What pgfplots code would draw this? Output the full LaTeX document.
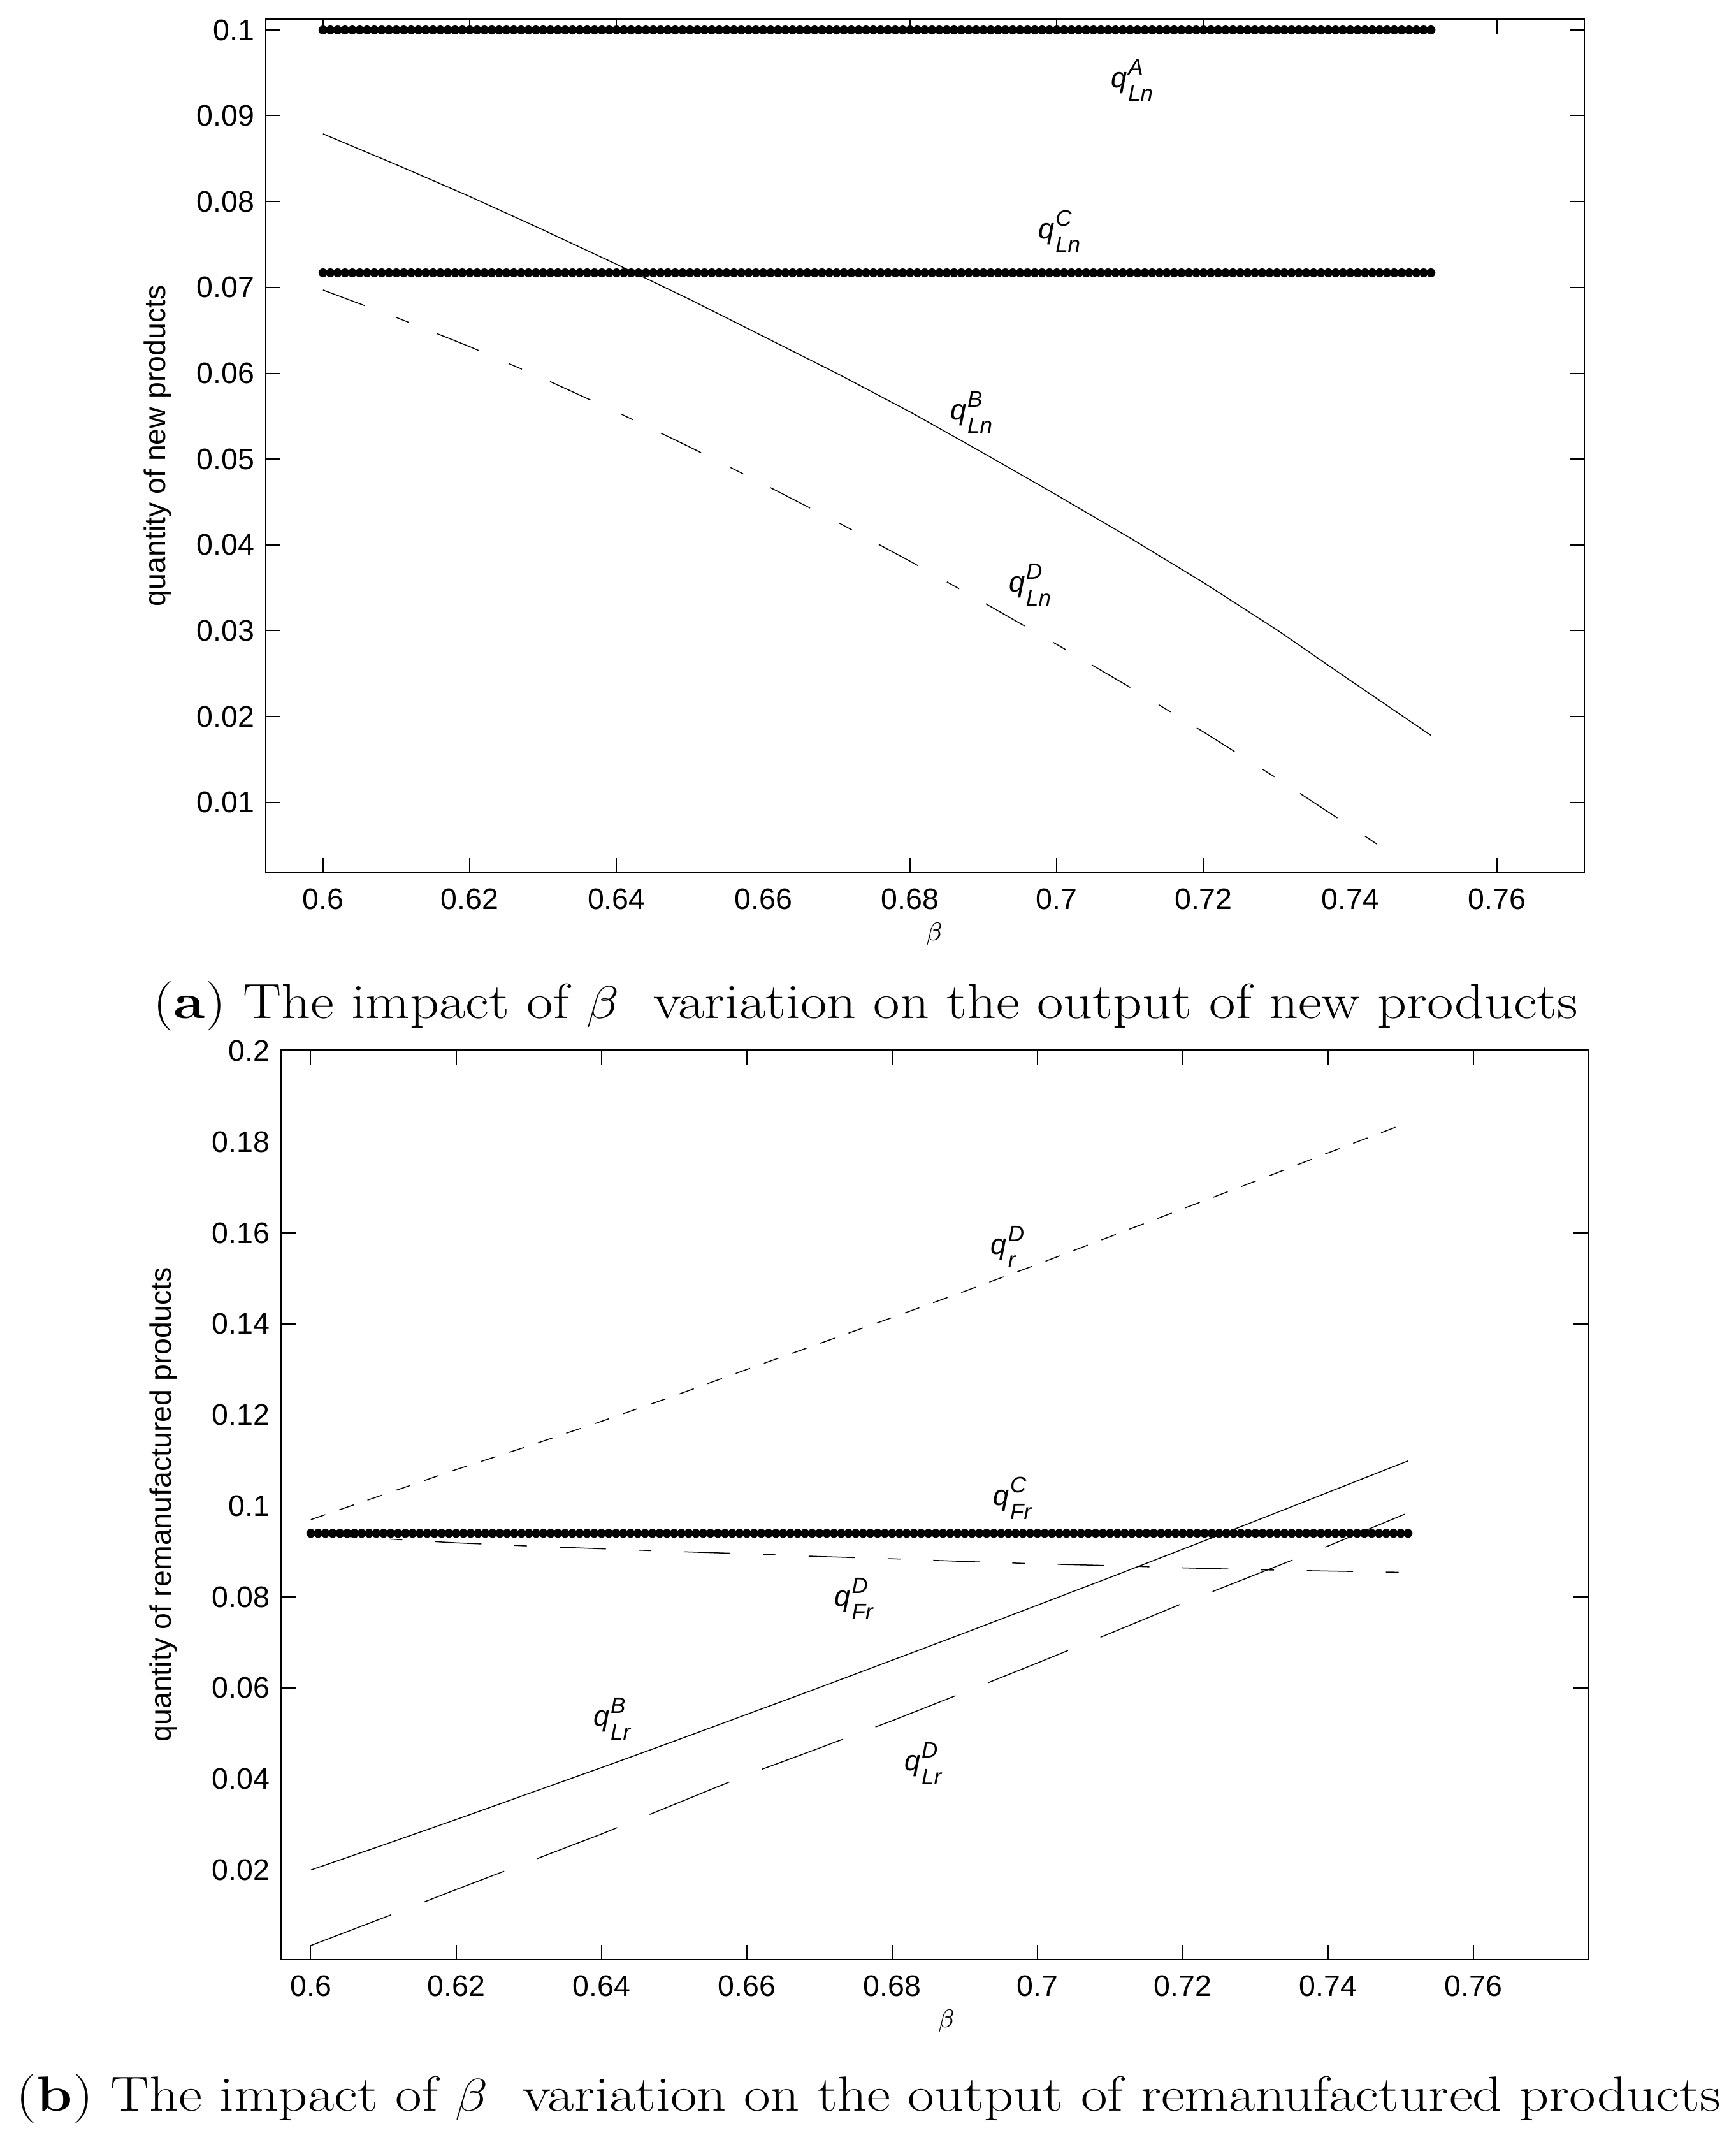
\documentclass[border=0pt]{standalone}
\usepackage{fontspec}
\usepackage{amsmath}
\usepackage{graphicx}
\usepackage{pgfplots}
\usepackage{pgfplotstable}
\pgfplotsset{compat=1.18}
\newfontfamily\hel{Liberation Sans}
% label q with superscript #1 and subscript #2 (MATLAB tex style)
\newcommand{\ql}[2]{{\fontsize{9}{10}\selectfont\textit{q}}\kern0.4pt\rlap{\raisebox{4pt}{\fontsize{7}{8}\selectfont\textit{#1}}}\raisebox{-4.3pt}{\fontsize{7}{8}\selectfont\textit{#2}}}

% constant series (dotted rows): beta, q^A_Ln, q^C_Ln, q^C_Fr
\pgfplotstableread{
x a c f
0.600 0.1 0.0717 0.094
0.601 0.1 0.0717 0.094
0.602 0.1 0.0717 0.094
0.603 0.1 0.0717 0.094
0.604 0.1 0.0717 0.094
0.605 0.1 0.0717 0.094
0.606 0.1 0.0717 0.094
0.607 0.1 0.0717 0.094
0.608 0.1 0.0717 0.094
0.609 0.1 0.0717 0.094
0.610 0.1 0.0717 0.094
0.611 0.1 0.0717 0.094
0.612 0.1 0.0717 0.094
0.613 0.1 0.0717 0.094
0.614 0.1 0.0717 0.094
0.615 0.1 0.0717 0.094
0.616 0.1 0.0717 0.094
0.617 0.1 0.0717 0.094
0.618 0.1 0.0717 0.094
0.619 0.1 0.0717 0.094
0.620 0.1 0.0717 0.094
0.621 0.1 0.0717 0.094
0.622 0.1 0.0717 0.094
0.623 0.1 0.0717 0.094
0.624 0.1 0.0717 0.094
0.625 0.1 0.0717 0.094
0.626 0.1 0.0717 0.094
0.627 0.1 0.0717 0.094
0.628 0.1 0.0717 0.094
0.629 0.1 0.0717 0.094
0.630 0.1 0.0717 0.094
0.631 0.1 0.0717 0.094
0.632 0.1 0.0717 0.094
0.633 0.1 0.0717 0.094
0.634 0.1 0.0717 0.094
0.635 0.1 0.0717 0.094
0.636 0.1 0.0717 0.094
0.637 0.1 0.0717 0.094
0.638 0.1 0.0717 0.094
0.639 0.1 0.0717 0.094
0.640 0.1 0.0717 0.094
0.641 0.1 0.0717 0.094
0.642 0.1 0.0717 0.094
0.643 0.1 0.0717 0.094
0.644 0.1 0.0717 0.094
0.645 0.1 0.0717 0.094
0.646 0.1 0.0717 0.094
0.647 0.1 0.0717 0.094
0.648 0.1 0.0717 0.094
0.649 0.1 0.0717 0.094
0.650 0.1 0.0717 0.094
0.651 0.1 0.0717 0.094
0.652 0.1 0.0717 0.094
0.653 0.1 0.0717 0.094
0.654 0.1 0.0717 0.094
0.655 0.1 0.0717 0.094
0.656 0.1 0.0717 0.094
0.657 0.1 0.0717 0.094
0.658 0.1 0.0717 0.094
0.659 0.1 0.0717 0.094
0.660 0.1 0.0717 0.094
0.661 0.1 0.0717 0.094
0.662 0.1 0.0717 0.094
0.663 0.1 0.0717 0.094
0.664 0.1 0.0717 0.094
0.665 0.1 0.0717 0.094
0.666 0.1 0.0717 0.094
0.667 0.1 0.0717 0.094
0.668 0.1 0.0717 0.094
0.669 0.1 0.0717 0.094
0.670 0.1 0.0717 0.094
0.671 0.1 0.0717 0.094
0.672 0.1 0.0717 0.094
0.673 0.1 0.0717 0.094
0.674 0.1 0.0717 0.094
0.675 0.1 0.0717 0.094
0.676 0.1 0.0717 0.094
0.677 0.1 0.0717 0.094
0.678 0.1 0.0717 0.094
0.679 0.1 0.0717 0.094
0.680 0.1 0.0717 0.094
0.681 0.1 0.0717 0.094
0.682 0.1 0.0717 0.094
0.683 0.1 0.0717 0.094
0.684 0.1 0.0717 0.094
0.685 0.1 0.0717 0.094
0.686 0.1 0.0717 0.094
0.687 0.1 0.0717 0.094
0.688 0.1 0.0717 0.094
0.689 0.1 0.0717 0.094
0.690 0.1 0.0717 0.094
0.691 0.1 0.0717 0.094
0.692 0.1 0.0717 0.094
0.693 0.1 0.0717 0.094
0.694 0.1 0.0717 0.094
0.695 0.1 0.0717 0.094
0.696 0.1 0.0717 0.094
0.697 0.1 0.0717 0.094
0.698 0.1 0.0717 0.094
0.699 0.1 0.0717 0.094
0.700 0.1 0.0717 0.094
0.701 0.1 0.0717 0.094
0.702 0.1 0.0717 0.094
0.703 0.1 0.0717 0.094
0.704 0.1 0.0717 0.094
0.705 0.1 0.0717 0.094
0.706 0.1 0.0717 0.094
0.707 0.1 0.0717 0.094
0.708 0.1 0.0717 0.094
0.709 0.1 0.0717 0.094
0.710 0.1 0.0717 0.094
0.711 0.1 0.0717 0.094
0.712 0.1 0.0717 0.094
0.713 0.1 0.0717 0.094
0.714 0.1 0.0717 0.094
0.715 0.1 0.0717 0.094
0.716 0.1 0.0717 0.094
0.717 0.1 0.0717 0.094
0.718 0.1 0.0717 0.094
0.719 0.1 0.0717 0.094
0.720 0.1 0.0717 0.094
0.721 0.1 0.0717 0.094
0.722 0.1 0.0717 0.094
0.723 0.1 0.0717 0.094
0.724 0.1 0.0717 0.094
0.725 0.1 0.0717 0.094
0.726 0.1 0.0717 0.094
0.727 0.1 0.0717 0.094
0.728 0.1 0.0717 0.094
0.729 0.1 0.0717 0.094
0.730 0.1 0.0717 0.094
0.731 0.1 0.0717 0.094
0.732 0.1 0.0717 0.094
0.733 0.1 0.0717 0.094
0.734 0.1 0.0717 0.094
0.735 0.1 0.0717 0.094
0.736 0.1 0.0717 0.094
0.737 0.1 0.0717 0.094
0.738 0.1 0.0717 0.094
0.739 0.1 0.0717 0.094
0.740 0.1 0.0717 0.094
0.741 0.1 0.0717 0.094
0.742 0.1 0.0717 0.094
0.743 0.1 0.0717 0.094
0.744 0.1 0.0717 0.094
0.745 0.1 0.0717 0.094
0.746 0.1 0.0717 0.094
0.747 0.1 0.0717 0.094
0.748 0.1 0.0717 0.094
0.749 0.1 0.0717 0.094
0.750 0.1 0.0717 0.094
0.751 0.1 0.0717 0.094
}\consts

\pgfplotsset{
  mystyle/.style={
    scale only axis,
    anchor=south west,
    axis line style={line width=0.4pt},
    every tick/.style={black, line width=0.3pt},
    major tick length=4.6pt,
    tick align=inside,
    scaled ticks=false,
    ticklabel style={font=\hel\fontsize{9.3}{11}\selectfont},
    /pgf/number format/fixed,
    /pgf/number format/precision=3,
    /pgf/number format/assume math mode=true,
    xticklabel style={yshift=-1.5pt},
    xtick={0.6,0.62,0.64,0.66,0.68,0.7,0.72,0.74,0.76},
    ylabel style={rotate=0, anchor=center, font=\hel\fontsize{9.3}{11}\selectfont},
    xlabel style={anchor=center, font=\fontsize{8}{9}\selectfont},
    clip=true,
  },
  curve/.style={black, line width=0.3pt},
  dots/.style={black, only marks, mark=*, mark size=1.2pt},
}
\tikzset{lbl/.style={anchor=base west, inner sep=0pt, font=\hel}}

\begin{document}
\begin{tikzpicture}
\useasboundingbox (0,0) rectangle (544.6pt,-671.4pt);

% ---------------- panel (a) ----------------
\begin{axis}[mystyle,
  at={(83.4pt,-273.8pt)}, width=413.8pt, height=267.9pt,
  xmin=0.5922, xmax=0.7719, ymin=0.0018, ymax=0.1013,
  ytick={0.01,0.02,0.03,0.04,0.05,0.06,0.07,0.08,0.09,0.1},
  xlabel={$\beta$},
  xlabel style={at={(axis description cs:0.507,-0.0717)}},
  ylabel={quantity of new products},
  ylabel style={at={(axis description cs:-0.0817,0.5)}},
]
\addplot[dots] table[x=x,y=a]{\consts};
\addplot[dots] table[x=x,y=c]{\consts};
\addplot[curve] coordinates {
(0.600,0.0879) (0.610,0.0843) (0.620,0.0806) (0.630,0.0767) (0.640,0.0727)
(0.650,0.0686) (0.660,0.0643) (0.670,0.0600) (0.680,0.0555) (0.690,0.0507)
(0.700,0.0458) (0.710,0.0408) (0.720,0.0356) (0.730,0.0301) (0.740,0.0242)
(0.751,0.0178)};
\addplot[curve, dash pattern=on 14pt off 10.4pt on 4.4pt off 9.6pt] coordinates {
(0.600,0.0697) (0.610,0.0665) (0.620,0.0631) (0.630,0.0594) (0.640,0.0555)
(0.650,0.0514) (0.660,0.0471) (0.670,0.0427) (0.680,0.0381) (0.690,0.0333)
(0.700,0.0284) (0.710,0.0234) (0.720,0.0182) (0.730,0.0128) (0.740,0.0072)
(0.7465,0.0035)};
\node[lbl] at (axis cs:0.7073,0.0933) {\ql{A}{Ln}};
\node[lbl] at (axis cs:0.6974,0.0757) {\ql{C}{Ln}};
\node[lbl] at (axis cs:0.6854,0.0546) {\ql{B}{Ln}};
\node[lbl] at (axis cs:0.6934,0.0345) {\ql{D}{Ln}};
\end{axis}

% ---------------- panel (b) ----------------
\begin{axis}[mystyle,
  at={(88.2pt,-614.8pt)}, width=410.2pt, height=285.5pt,
  xmin=0.5959, xmax=0.7758, ymin=0.0003, ymax=0.2003,
  ytick={0.02,0.04,0.06,0.08,0.1,0.12,0.14,0.16,0.18,0.2},
  xlabel={$\beta$},
  xlabel style={at={(axis description cs:0.509,-0.0673)}},
  ylabel={quantity of remanufactured products},
  ylabel style={at={(axis description cs:-0.0902,0.5)}},
]
\addplot[dots] table[x=x,y=f]{\consts};
\addplot[curve, dash pattern=on 4.8pt off 4.6pt] coordinates {
(0.600,0.0970) (0.610,0.1025) (0.620,0.1080) (0.630,0.1132) (0.640,0.1186)
(0.650,0.1242) (0.660,0.1300) (0.670,0.1357) (0.680,0.1414) (0.690,0.1472)
(0.700,0.1531) (0.710,0.1592) (0.720,0.1653) (0.730,0.1714) (0.740,0.1776)
(0.751,0.1843)};
\addplot[curve, dash pattern=on 14.5pt off 10.3pt on 4pt off 10.3pt] coordinates {
(0.600,0.0938) (0.610,0.0928) (0.620,0.0919) (0.630,0.0912) (0.640,0.0906)
(0.650,0.0900) (0.660,0.0895) (0.670,0.0889) (0.680,0.0884) (0.690,0.0878)
(0.700,0.0873) (0.710,0.0869) (0.720,0.0864) (0.730,0.0860) (0.740,0.0857)
(0.751,0.0854)};
\addplot[curve] coordinates {
(0.600,0.0200) (0.610,0.0255) (0.620,0.0311) (0.630,0.0368) (0.640,0.0425)
(0.650,0.0483) (0.660,0.0542) (0.670,0.0601) (0.680,0.0661) (0.690,0.0721)
(0.700,0.0782) (0.710,0.0843) (0.720,0.0905) (0.730,0.0967) (0.740,0.1030)
(0.751,0.1099)};
\addplot[curve, dash pattern=on 27pt off 11pt] coordinates {
(0.600,0.0034) (0.610,0.0095) (0.620,0.0157) (0.630,0.0218) (0.640,0.0279)
(0.650,0.0344) (0.660,0.0409) (0.670,0.0468) (0.680,0.0528) (0.690,0.0591)
(0.700,0.0655) (0.710,0.0720) (0.720,0.0786) (0.730,0.0849) (0.740,0.0912)
(0.751,0.0985)};
\node[lbl] at (axis cs:0.6935,0.1554) {\ql{D}{r}};
\node[lbl] at (axis cs:0.6938,0.1001) {\ql{C}{Fr}};
\node[lbl] at (axis cs:0.6720,0.0780) {\ql{D}{Fr}};
\node[lbl] at (axis cs:0.6388,0.0516) {\ql{B}{Lr}};
\node[lbl] at (axis cs:0.6816,0.0418) {\ql{D}{Lr}};
\end{axis}

% ---------------- captions ----------------
\node[anchor=base, inner sep=0pt] at (271.7pt,-319.4pt)
  {\resizebox{447pt}{\height}{\fontsize{15.5}{18}\selectfont (\textbf{a}) The impact of $\beta$\ \ variation on the output of new products}};
\node[anchor=base, inner sep=0pt] at (272.6pt,-662.3pt)
  {\resizebox{534.8pt}{\height}{\fontsize{15.5}{18}\selectfont (\textbf{b}) The impact of $\beta$\ \ variation on the output of remanufactured products}};
\end{tikzpicture}
\end{document}
